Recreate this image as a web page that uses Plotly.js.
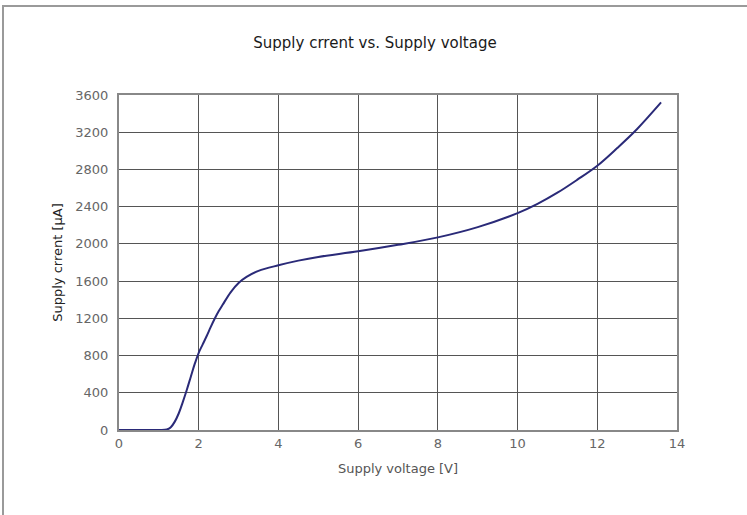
<!DOCTYPE html>
<html>
<head>
<meta charset="utf-8">
<script src="https://cdn.plot.ly/plotly-3.0.1.min.js"></script>
<style>
  html, body { margin: 0; padding: 0; background: #fff; }
  #chart { width: 747px; height: 515px; position: relative; }
  #frame { position: absolute; left: 2px; top: 5px; width: 760px; height: 520px;
           border-top: 2px solid #9a9a9a; border-left: 2px solid #9a9a9a; pointer-events: none; }
</style>
</head>
<body>
<div id="chart"></div>
<div id="frame"></div>
<script>
const voltage = [0, 0.5, 1.0, 1.2, 1.3, 1.4, 1.5, 1.6, 1.7, 1.8, 1.9, 2.0, 2.1, 2.2, 2.3, 2.4, 2.5, 2.6, 2.8, 3.0, 3.2, 3.5, 4, 4.5, 5, 6, 7, 8, 9, 10, 10.5, 11, 11.5, 12, 12.5, 13, 13.6];
const current = [0, 0, 0, 5, 30, 90, 180, 300, 430, 570, 710, 830, 920, 1010, 1105, 1195, 1275, 1345, 1480, 1580, 1645, 1710, 1770, 1820, 1860, 1920, 1990, 2070, 2180, 2330, 2430, 2550, 2690, 2840, 3030, 3235, 3520];
const xTicks = [0, 2, 4, 6, 8, 10, 12, 14];
const yTicks = [0, 400, 800, 1200, 1600, 2000, 2400, 2800, 3200, 3600];

const fontFam = '"DejaVu Sans", "Liberation Sans", sans-serif';

Plotly.newPlot('chart', [{
  x: voltage,
  y: current,
  type: 'scatter',
  mode: 'lines',
  line: { color: '#2a2a78', width: 2, shape: 'spline', smoothing: 1 },
  hoverinfo: 'skip'
}], {
  width: 747,
  height: 515,
  margin: { l: 119, r: 70, t: 95, b: 85 },
  paper_bgcolor: '#ffffff',
  plot_bgcolor: '#ffffff',
  showlegend: false,
  title: {
    text: 'Supply crrent vs. Supply voltage',
    x: 0.502, xanchor: 'center',
    y: 0.917, yanchor: 'middle',
    font: { family: fontFam, size: 15, color: '#1a1a1a' }
  },
  xaxis: {
    range: [0, 14],
    tickvals: xTicks,
    ticktext: xTicks.map(String),
    showgrid: true,
    gridcolor: '#555555',
    gridwidth: 1,
    zeroline: false,
    showline: true,
    linecolor: '#888888',
    linewidth: 2,
    mirror: true,
    ticks: '',
    tickfont: { family: fontFam, size: 13, color: '#666666' },
    title: { text: 'Supply voltage [V]', standoff: 14,
             font: { family: fontFam, size: 13, color: '#555555' } }
  },
  yaxis: {
    range: [0, 3600],
    tickvals: yTicks,
    ticktext: yTicks.map(String),
    showgrid: true,
    gridcolor: '#555555',
    gridwidth: 1,
    zeroline: false,
    showline: true,
    linecolor: '#888888',
    linewidth: 2,
    mirror: true,
    ticks: '',
    ticklabelstandoff: 6,
    tickfont: { family: fontFam, size: 13, color: '#666666' },
    title: { text: 'Supply crrent [μA]', standoff: 10,
             font: { family: fontFam, size: 13, color: '#222222' } }
  }
}, { displayModeBar: false, staticPlot: true });
</script>
</body>
</html>
